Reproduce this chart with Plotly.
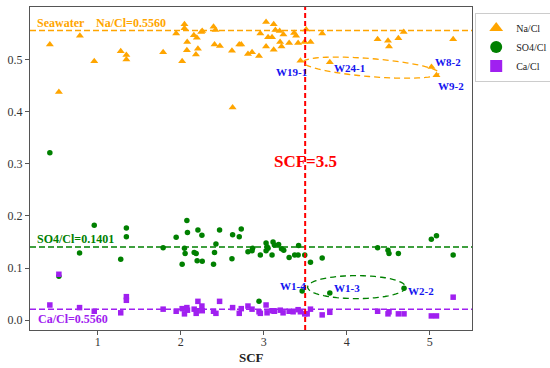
import numpy as np
import plotly.graph_objects as go

# ---------------- data ----------------
scf_na = [0.424, 0.533, 0.786, 0.959, 1.278, 1.346, 1.346, 1.789, 1.946, 2.018,
          2.046, 2.046, 2.079, 2.075, 2.159, 2.195, 2.208, 2.184, 2.248, 2.260,
          2.396, 2.420, 2.408, 2.473, 2.626, 2.618, 2.706, 2.730, 2.811, 2.860,
          2.944, 2.960, 3.029, 3.029, 3.053, 3.101, 3.121, 3.121, 3.141, 3.193,
          3.238, 3.198, 3.215, 3.307, 3.367, 3.391, 3.415, 3.492, 3.512, 3.565,
          3.705, 3.443, 3.797, 4.373, 4.498, 4.510, 4.623, 4.687, 5.022, 5.082,
          5.283]
na_cl = [0.529, 0.438, 0.546, 0.497, 0.516, 0.509, 0.500, 0.514, 0.550, 0.497,
         0.568, 0.560, 0.534, 0.518, 0.547, 0.542, 0.521, 0.510, 0.553, 0.555,
         0.563, 0.557, 0.529, 0.526, 0.408, 0.517, 0.529, 0.529, 0.511, 0.514,
         0.507, 0.550, 0.572, 0.525, 0.543, 0.543, 0.568, 0.519, 0.557, 0.555,
         0.548, 0.534, 0.525, 0.532, 0.551, 0.546, 0.532, 0.534, 0.558, 0.534,
         0.550, 0.498, 0.495, 0.539, 0.536, 0.525, 0.541, 0.553, 0.486, 0.470,
         0.539]

scf_so4 = [0.424, 0.533, 0.782, 0.959, 1.278, 1.346, 1.346, 1.789, 1.946, 2.018,
           2.046, 2.054, 2.075, 2.082, 2.163, 2.187, 2.199, 2.208, 2.256, 2.260,
           2.396, 2.408, 2.425, 2.469, 2.618, 2.626, 2.706, 2.730, 2.811, 2.860,
           2.867, 2.944, 2.960, 3.029, 3.029, 3.041, 3.053, 3.101, 3.113, 3.129,
           3.180, 3.215, 3.242, 3.307, 3.374, 3.415, 3.421, 3.464, 3.495, 3.564,
           3.705, 3.797, 4.373, 4.498, 4.510, 4.623, 4.691, 5.020, 5.082, 5.283]
so4_cl = [0.321, 0.084, 0.129, 0.182, 0.117, 0.177, 0.160, 0.139, 0.159, 0.107,
          0.138, 0.128, 0.191, 0.168, 0.130, 0.128, 0.114, 0.173, 0.163, 0.113,
          0.107, 0.130, 0.146, 0.173, 0.118, 0.164, 0.160, 0.175, 0.131, 0.133,
          0.138, 0.036, 0.125, 0.148, 0.133, 0.141, 0.138, 0.125, 0.150, 0.144,
          0.145, 0.137, 0.134, 0.120, 0.125, 0.125, 0.143, 0.056, 0.125, 0.111,
          0.119, 0.052, 0.139, 0.134, 0.128, 0.128, 0.061, 0.155, 0.162, 0.125]

scf_ca = [0.424, 0.533, 0.782, 0.959, 1.278, 1.346, 1.346, 1.789, 1.946, 2.018,
          2.046, 2.075, 2.082, 2.163, 2.187, 2.199, 2.208, 2.256, 2.260, 2.396,
          2.425, 2.469, 2.626, 2.706, 2.730, 2.811, 2.860, 2.944, 2.960, 3.029,
          3.041, 3.101, 3.121, 3.130, 3.200, 3.234, 3.307, 3.355, 3.415, 3.443,
          3.495, 3.524, 3.564, 3.705, 3.797, 4.373, 4.498, 4.510, 4.623, 4.691,
          5.020, 5.082, 5.283]
ca_cl = [0.029, 0.088, 0.024, 0.017, 0.014, 0.045, 0.038, 0.021, 0.017, 0.022,
         0.012, 0.024, 0.019, 0.021, 0.013, 0.018, 0.036, 0.027, 0.018, 0.017,
         0.013, 0.036, 0.024, 0.013, 0.022, 0.027, 0.021, 0.016, 0.013, 0.029,
         0.014, 0.018, 0.018, 0.017, 0.019, 0.014, 0.017, 0.016, 0.020, 0.016,
         0.012, 0.012, 0.021, 0.010, 0.015, 0.017, 0.012, 0.016, 0.012, 0.012,
         0.008, 0.008, 0.044]

ref_na = 0.5560
ref_so4 = 0.1401
ref_ca = 0.021
scf_threshold = 3.5

na_labels = ["W19-1", "W24-1", "W8-2", "W9-2"]
na_label_x = [3.34, 4.04, 5.22, 5.26]
na_label_y = [0.477, 0.483, 0.496, 0.449]
so4_labels = ["W1-4", "W1-3", "W2-2"]
so4_label_x = [3.35, 4.00, 4.90]
so4_label_y = [0.066, 0.061, 0.056]

x_ticks = [1, 2, 3, 4, 5]
y_ticks = [0.0, 0.1, 0.2, 0.3, 0.4, 0.5]

# ---------------- styling ----------------
ORANGE = "#FFA500"
GREEN = "#008000"
PURPLE = "#A020F0"
RED = "#FF0000"
BLUE = "#1414F0"
FONT = "Liberation Serif, Times New Roman, serif"

W, H = 550, 368
ML, MR, MT, MB = 30, 78, 7, 38
XR = [0.185, 5.51]
YR = [-0.019, 0.601]
px_x = (W - ML - MR) / (XR[1] - XR[0])
px_y = (H - MT - MB) / (YR[1] - YR[0])

fig = go.Figure()
fig.add_trace(go.Scatter(x=scf_na, y=na_cl, mode="markers", name="Na/Cl",
                         marker=dict(symbol="triangle-up", size=7, color=ORANGE)))
fig.add_trace(go.Scatter(x=scf_so4, y=so4_cl, mode="markers", name="SO4/Cl",
                         marker=dict(symbol="circle", size=5.5, color=GREEN)))
fig.add_trace(go.Scatter(x=scf_ca, y=ca_cl, mode="markers", name="Ca/Cl",
                         marker=dict(symbol="square", size=5.5, color=PURPLE)))

# reference lines
for val, col in [(ref_na, ORANGE), (ref_so4, GREEN), (ref_ca, PURPLE)]:
    fig.add_shape(type="line", xref="paper", yref="y", x0=0, x1=1, y0=val, y1=val,
                  line=dict(color=col, width=1.5, dash="6px,3px"), layer="below")
fig.add_shape(type="line", xref="x", yref="paper", x0=scf_threshold, x1=scf_threshold,
              y0=0, y1=1, line=dict(color=RED, width=2, dash="5px,3px"))


def ellipse_path(cx, cy, a_px, b_px, ang_deg):
    t = np.linspace(0, 2 * np.pi, 80)
    th = np.deg2rad(ang_deg)
    dx = a_px * np.cos(t) * np.cos(th) - b_px * np.sin(t) * np.sin(th)
    dy = a_px * np.cos(t) * np.sin(th) + b_px * np.sin(t) * np.cos(th)
    xs = cx + dx / px_x
    ys = cy - dy / px_y
    pts = [f"{x:.4f},{y:.5f}" for x, y in zip(xs, ys)]
    return "M " + " L ".join(pts) + " Z"


fig.add_shape(type="path", xref="x", yref="y",
              path=ellipse_path(4.295, 0.4846, 68, 9, 4.7),
              line=dict(color=ORANGE, width=1.3, dash="6px,4px"))
fig.add_shape(type="path", xref="x", yref="y",
              path=ellipse_path(4.12, 0.0633, 49, 11.5, 0),
              line=dict(color=GREEN, width=1.3, dash="6px,4px"))

# annotations
fig.add_annotation(x=0.243, y=0.571, xref="x", yref="y", xanchor="left", yanchor="middle",
                   text="<b>Seawater    Na/Cl=0.5560</b>", showarrow=False,
                   font=dict(family=FONT, size=12, color=ORANGE))
fig.add_annotation(x=0.243, y=0.155, xref="x", yref="y", xanchor="left", yanchor="middle",
                   text="<b>SO4/Cl=0.1401</b>", showarrow=False,
                   font=dict(family=FONT, size=12, color=GREEN))
fig.add_annotation(x=0.26, y=0.002, xref="x", yref="y", xanchor="left", yanchor="middle",
                   text="<b>Ca/Cl=0.5560</b>", showarrow=False,
                   font=dict(family=FONT, size=12, color=PURPLE))
fig.add_annotation(x=scf_threshold, y=0.305, xref="x", yref="y",
                   text="<b>SCF=3.5</b>", showarrow=False,
                   font=dict(family=FONT, size=17, color=RED))
for t, x, y in zip(na_labels + so4_labels, na_label_x + so4_label_x, na_label_y + so4_label_y):
    fig.add_annotation(x=x, y=y, xref="x", yref="y", text=f"<b>{t}</b>", showarrow=False,
                       font=dict(family=FONT, size=11, color=BLUE))
# x-axis title
fig.add_annotation(x=0.5, y=-0.085, xref="paper", yref="paper", yanchor="middle",
                   text="<b>SCF</b>", showarrow=False,
                   font=dict(family=FONT, size=13, color="#222"))

axis_common = dict(showline=True, linecolor="#555", linewidth=1.2, mirror=True,
                   ticks="outside", ticklen=4, tickcolor="#555", showgrid=False,
                   zeroline=False, automargin=False,
                   tickfont=dict(family=FONT, size=12, color="#333"))
fig.update_xaxes(range=XR, tickvals=x_ticks, ticktext=[str(v) for v in x_ticks],
                 ticklabelstandoff=-4, **axis_common)
fig.update_yaxes(range=YR, tickvals=y_ticks, ticktext=[f"{v:.1f}" for v in y_ticks],
                 **axis_common)

fig.update_layout(width=W, height=H, margin=dict(l=ML, r=MR, t=MT, b=MB, autoexpand=False),
                  plot_bgcolor="white", paper_bgcolor="white",
                  legend=dict(xref="container", yref="container", x=0.864, y=0.966,
                              xanchor="left", yanchor="top",
                              bordercolor="#ccc", borderwidth=1, bgcolor="white",
                              itemsizing="constant", tracegroupgap=0,
                              font=dict(family=FONT, size=10, color="#222")),
                  showlegend=True)

fig.write_html("out.html", config={"displayModeBar": False},
               post_script="document.body.style.margin='0';document.body.style.padding='0';")
